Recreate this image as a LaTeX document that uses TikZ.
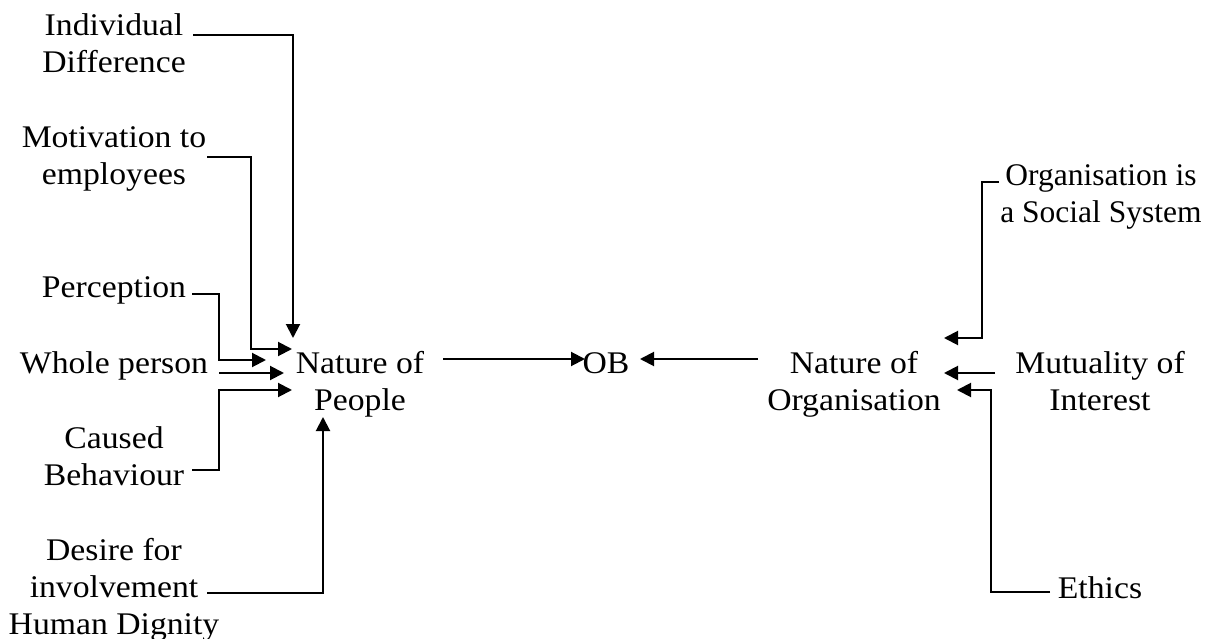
\documentclass[tikz,border=0pt]{standalone}
\usepackage{fontspec}
\setmainfont{Liberation Serif}[FakeStretch=1.07]
\newfontfamily\plainserif{Liberation Serif}
\usetikzlibrary{arrows.meta}
\begin{document}
\begin{tikzpicture}[x=1pt,y=-1pt,
  lbl/.style={align=center,inner sep=0pt,anchor=base,font=\fontsize{31.5}{37}\selectfont},
  link/.style={line width=2pt,-{Triangle[length=14pt,width=14pt]}}]
\fill[white] (0,0) rectangle (1205,639);
\useasboundingbox (0,0) rectangle (1205,639);

% factors on the people side (placed by the baseline of their last line)
\node[lbl] (indiv)  at (114,73)  {Individual\\Difference};
\node[lbl] (motiv)  at (114,185) {Motivation to\\employees};
\node[lbl] (percep) at (114,298) {Perception};
\node[lbl] (whole)  at (114,373) {Whole person};
\node[lbl] (caused) at (114,485) {Caused\\Behaviour};
\node[lbl] (desire) at (114,634) {Desire for\\involvement\\Human Dignity};

% central nodes
\node[lbl] (nop) at (360,410) {Nature of\\People};
\node[lbl] (ob)  at (606,373) {OB};
\node[lbl] (noo) at (854,410) {Nature of\\Organisation};

% factors on the organisation side
\node[lbl,font=\plainserif\fontsize{31.5}{37}\selectfont] (orgsoc) at (1101,223) {Organisation is\\a Social System};
\node[lbl] (mutual) at (1100,410) {Mutuality of\\Interest};
\node[lbl] (ethics) at (1100,598) {Ethics};

% connector ends
\coordinate (indivOut)  at (193,35);
\coordinate (indivIn)   at (293,338);
\coordinate (motivOut)  at (207,157);
\coordinate (motivIn)   at (292,349);
\coordinate (percepOut) at (192,294);
\coordinate (percepIn)  at (266,360);
\coordinate (wholeOut)  at (219,373);
\coordinate (wholeIn)   at (284,373);
\coordinate (causedOut) at (192,470);
\coordinate (causedIn)  at (292,390);
\coordinate (desireOut) at (207,593);
\coordinate (desireIn)  at (323,417);
\coordinate (nopOut)    at (443,359);
\coordinate (obInL)     at (585,359);
\coordinate (obInR)     at (640,359);
\coordinate (nooOut)    at (758,359);
\coordinate (orgsocOut) at (999,182);
\coordinate (orgsocIn)  at (944,338);
\coordinate (mutualOut) at (995,373);
\coordinate (mutualIn)  at (944,373);
\coordinate (ethicsOut) at (1050,592);
\coordinate (ethicsIn)  at (957,390);

\draw[link] (indivOut) -| (indivIn);
\draw[link] (motivOut) -| (251,349) -- (motivIn);
\draw[link] (percepOut) -| (219,360) -- (percepIn);
\draw[link] (wholeOut) -- (wholeIn);
\draw[link] (causedOut) -| (219,390) -- (causedIn);
\draw[link] (desireOut) -| (desireIn);

\draw[link] (nopOut) -- (obInL);
\draw[link] (nooOut) -- (obInR);

\draw[link] (orgsocOut) -- (982,182) |- (orgsocIn);
\draw[link] (mutualOut) -- (mutualIn);
\draw[link] (ethicsOut) -| (991,390) -- (ethicsIn);
\end{tikzpicture}
\end{document}
